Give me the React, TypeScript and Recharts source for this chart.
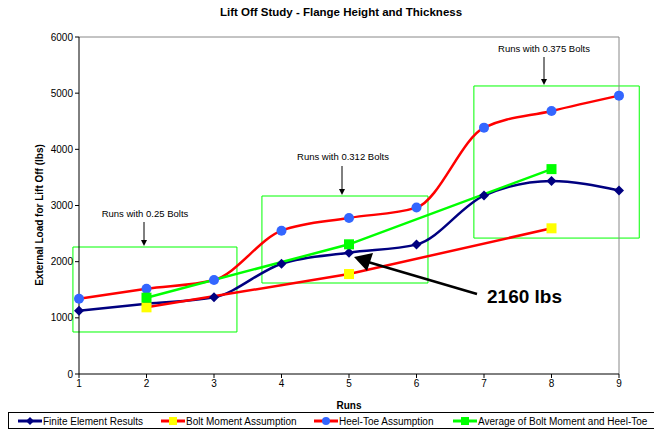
import {
  LineChart,
  Line,
  XAxis,
  YAxis,
  ReferenceArea,
  ReferenceLine,
} from "recharts";

// chart data
const runs = [1, 2, 3, 4, 5, 6, 7, 8, 9];
const finiteElement = [1127, 1250, 1365, 1964, 2160, 2304, 3176, 3436, 3267];
const boltMoment = [null, 1187, null, null, 1780, null, null, 2594, null];
const heelToe = [1341, 1519, 1674, 2552, 2778, 2963, 4386, 4683, 4956];
const average = [null, 1359, null, null, 2309, null, null, 3648, null];

const yTicks = [0, 1000, 2000, 3000, 4000, 5000, 6000];

// the three "Runs with ..." boxes: [x1, x2, y1, y2] in data units
const boltBoxes = [
  [0.91, 3.34, 748, 2261],
  [3.71, 6.17, 1620, 3169],
  [6.85, 9.3, 2420, 5128],
];

const data = runs.map((run, i) => ({
  run,
  fe: finiteElement[i],
  bolt: boltMoment[i],
  heel: heelToe[i],
  avg: average[i],
}));

const FONT = "'Liberation Sans', Arial, sans-serif";

function Diamond(props: any) {
  const { cx, cy, index } = props;
  if (cx == null || cy == null) return <g key={"d" + index} />;
  const s = 5;
  return (
    <polygon
      key={"d" + index}
      points={`${cx},${cy - s} ${cx + s},${cy} ${cx},${cy + s} ${cx - s},${cy}`}
      fill="#000080"
    />
  );
}

function Circle(props: any) {
  const { cx, cy, index } = props;
  if (cx == null || cy == null) return <g key={"c" + index} />;
  return <circle key={"c" + index} cx={cx} cy={cy} r={5} fill="#3366FF" />;
}

function square(color: string) {
  return (props: any) => {
    const { cx, cy, index } = props;
    if (cx == null || cy == null || props.value == null)
      return <g key={color + index} />;
    return (
      <rect key={color + index} x={cx - 5} y={cy - 5} width={10} height={10} fill={color} />
    );
  };
}

function LegendBox() {
  const items = [
    { label: "Finite Element Results", line: "#000080", mark: "diamond", color: "#000080" },
    { label: "Bolt Moment Assumption", line: "#FF0000", mark: "square", color: "#FFFF00" },
    { label: "Heel-Toe Assumption", line: "#FF0000", mark: "circle", color: "#3366FF" },
    { label: "Average of Bolt Moment and Heel-Toe", line: "#00FF00", mark: "square", color: "#00FF00" },
  ];
  const xs = [17, 160, 313, 452];
  return (
    <div
      style={{
        position: "absolute",
        left: 8,
        top: 412,
        width: 660,
        height: 17,
        border: "1px solid #000",
        boxSizing: "border-box",
        background: "#fff",
      }}
    >
      <svg width={660} height={15} style={{ position: "absolute", left: 0, top: 0 }}>
        {items.map((it, i) => {
          const x = xs[i] - 8;
          const cx = x + 12;
          return (
            <g key={it.label}>
              <line x1={x} x2={x + 24} y1={8} y2={8} stroke={it.line} strokeWidth={3} />
              {it.mark === "diamond" && (
                <polygon points={`${cx},${4} ${cx + 4},${8} ${cx},${12} ${cx - 4},${8}`} fill={it.color} />
              )}
              {it.mark === "square" && <rect x={cx - 4} y={4} width={8} height={8} fill={it.color} />}
              {it.mark === "circle" && <circle cx={cx} cy={8} r={4} fill={it.color} />}
              <text x={x + 25} y={12} fontSize={10} fontFamily={FONT} fill="#000">
                {it.label}
              </text>
            </g>
          );
        })}
      </svg>
    </div>
  );
}

export default function App() {
  return (
    <div style={{ position: "absolute", left: 0, top: 0, width: 654, height: 431, background: "#fff", overflow: "hidden" }}>
      <LineChart
        width={654}
        height={410}
        data={data}
        margin={{ top: 37, right: 35, left: 34, bottom: 0 }}
      >
        <XAxis
          dataKey="run"
          type="number"
          domain={[1, 9]}
          ticks={runs}
          height={36}
          stroke="#000"
          tickSize={4}
          tick={{ fontSize: 10, fontFamily: FONT, fill: "#000" }}
        />
        <YAxis
          domain={[0, 6000]}
          ticks={yTicks}
          width={45}
          stroke="#000"
          tickSize={4}
          tick={{ fontSize: 10, fontFamily: FONT, fill: "#000" }}
        />
        <ReferenceLine y={6000} stroke="#888" />
        <ReferenceLine x={9} stroke="#888" />
        {boltBoxes.map((b, i) => (
          <ReferenceArea
            key={i}
            x1={b[0]}
            x2={b[1]}
            y1={b[2]}
            y2={b[3]}
            ifOverflow="visible"
            fill="none"
            fillOpacity={0}
            stroke="#00FF00"
            strokeWidth={1}
          />
        ))}
        <Line
          dataKey="fe"
          type="monotone"
          stroke="#000080"
          strokeWidth={2.5}
          dot={<Diamond />}
          isAnimationActive={false}
        />
        <Line
          dataKey="bolt"
          type="linear"
          stroke="#FF0000"
          strokeWidth={2.5}
          connectNulls
          dot={square("#FFFF00")}
          isAnimationActive={false}
        />
        <Line
          dataKey="heel"
          type="monotone"
          stroke="#FF0000"
          strokeWidth={2.5}
          dot={<Circle />}
          isAnimationActive={false}
        />
        <Line
          dataKey="avg"
          type="linear"
          stroke="#00FF00"
          strokeWidth={2.5}
          connectNulls
          dot={square("#00FF00")}
          isAnimationActive={false}
        />
      </LineChart>

      <svg
        width={654}
        height={431}
        style={{ position: "absolute", left: 0, top: 0, pointerEvents: "none" }}
        fontFamily={FONT}
      >
        <text x={341} y={16} textAnchor="middle" fontSize={11.5} fontWeight="bold">
          Lift Off Study - Flange Height and Thickness
        </text>
        <text
          x={0}
          y={0}
          transform="translate(43,215) rotate(-90)"
          textAnchor="middle"
          fontSize={10}
          fontWeight="bold"
        >
          External Load for Lift Off (lbs)
        </text>
        <text x={349} y={409} textAnchor="middle" fontSize={10} fontWeight="bold">
          Runs
        </text>

        <text x={145} y={217} textAnchor="middle" fontSize={9.5}>Runs with 0.25 Bolts</text>
        <line x1={144} y1={222} x2={144} y2={241} stroke="#000" strokeWidth={1} />
        <polygon points="141,240 147,240 144,246" fill="#000" />

        <text x={343} y={160} textAnchor="middle" fontSize={9.5}>Runs with 0.312 Bolts</text>
        <line x1={342} y1={166} x2={342} y2={190} stroke="#000" strokeWidth={1} />
        <polygon points="339,189 345,189 342,195" fill="#000" />

        <text x={544} y={52} textAnchor="middle" fontSize={9.5}>Runs with 0.375 Bolts</text>
        <line x1={544} y1={57} x2={544} y2={80} stroke="#000" strokeWidth={1} />
        <polygon points="541,79 547,79 544,85" fill="#000" />

        <line x1={477} y1={294} x2={368} y2={262} stroke="#000" strokeWidth={2.5} />
        <polygon points="354,257 373,253 367,271" fill="#000" />
        <text x={487} y={303} fontSize={19} fontWeight="bold">2160 lbs</text>
      </svg>

      <LegendBox />
    </div>
  );
}
